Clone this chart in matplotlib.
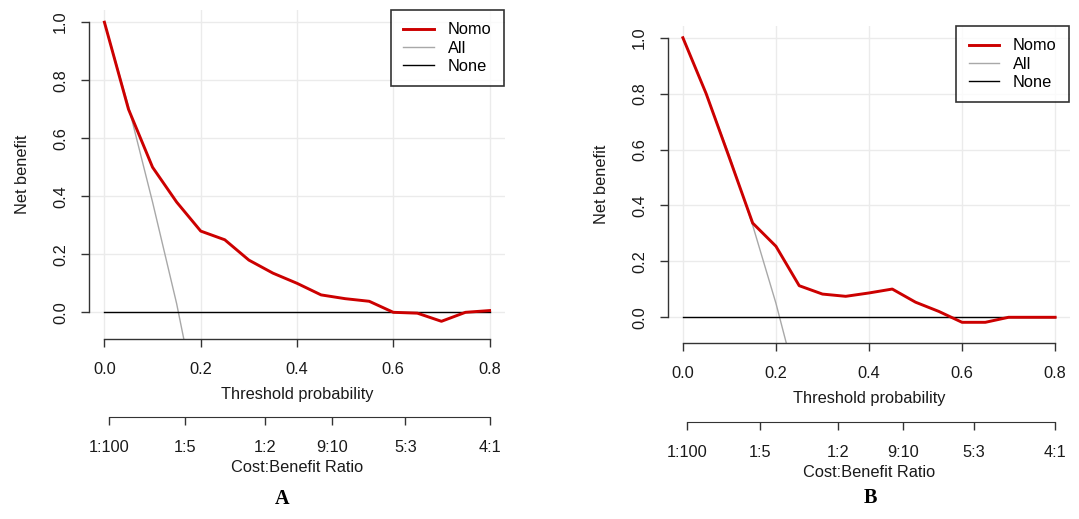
import numpy as np
import matplotlib.pyplot as plt

plt.rcParams['font.family'] = ['Liberation Sans', 'DejaVu Sans']

# thresholds used by both decision curves
thresholds = [0.0, 0.05, 0.10, 0.15, 0.20, 0.25, 0.30, 0.35, 0.40,
              0.45, 0.50, 0.55, 0.60, 0.65, 0.70, 0.75, 0.80]

# panel A
nomo_a = [1.0, 0.70, 0.50, 0.38, 0.28, 0.25, 0.18, 0.135, 0.10,
          0.06, 0.047, 0.038, 0.0, -0.003, -0.031, 0.0, 0.006]
all_thr_a = [0.0, 0.05, 0.10, 0.15, 0.20]
all_a = [1.0, 0.71, 0.38, 0.03, -0.38]

# panel B
nomo_b = [1.0, 0.80, 0.57, 0.337, 0.254, 0.113, 0.083, 0.075, 0.087,
          0.101, 0.054, 0.021, -0.018, -0.018, 0.0, 0.0, 0.0]
all_thr_b = [0.0, 0.05, 0.10, 0.15, 0.20, 0.25]
all_b = [1.0, 0.80, 0.578, 0.329, 0.05, -0.27]

# cost:benefit axis labels
cb_cost = [1, 1, 1, 9, 5, 4]
cb_benefit = [100, 5, 2, 10, 3, 1]
cb_labels = ['1:100', '1:5', '1:2', '9:10', '5:3', '4:1']

W, H = 1079, 519
fs = 11.8
red = '#CC0000'
grey = '#A8A8A8'
gridc = '#EBEBEB'
axc = '#333333'
txtc = '#1a1a1a'

fig = plt.figure(figsize=(W / 100, H / 100), dpi=100)


def px(left, top, right, bottom):
    return [left / W, 1 - bottom / H, (right - left) / W, (bottom - top) / H]


def panel(box, cb_y, nomo, all_thr, all_v, letter_xy, letter):
    ax = fig.add_axes(px(*box))
    ax.set_xlim(-0.032, 0.832)
    ax.set_ylim(-0.092, 1.042)
    ax.set_xticks([0.0, 0.2, 0.4, 0.6, 0.8])
    ax.set_yticks([0.0, 0.2, 0.4, 0.6, 0.8, 1.0])
    ax.set_xticklabels(['0.0', '0.2', '0.4', '0.6', '0.8'])
    ax.set_yticklabels(['0.0', '0.2', '0.4', '0.6', '0.8', '1.0'])
    ax.grid(True, color=gridc, lw=1.0)
    ax.set_axisbelow(True)
    for s in ['top', 'right']:
        ax.spines[s].set_visible(False)
    ax.spines['left'].set_bounds(0.0, 1.0)
    ax.spines['bottom'].set_bounds(0.0, 0.8)
    for s in ['left', 'bottom']:
        ax.spines[s].set_color(axc)
        ax.spines[s].set_linewidth(1.0)
    ax.tick_params(length=5.5, width=1.0, color=axc, labelsize=fs,
                   labelcolor=txtc, pad=11)
    ax.tick_params(axis='y', labelrotation=90, pad=9.5)
    for lab in ax.get_yticklabels():
        lab.set_va('center')

    ax.plot(all_thr, all_v, color=grey, lw=1.0, label='All')
    ax.plot(thresholds, np.zeros(len(thresholds)), color='black', lw=1.0,
            label='None')
    ax.plot(thresholds, nomo, color=red, lw=2.1, label='Nomo')

    h, l = ax.get_legend_handles_labels()
    order = [2, 0, 1]
    leg = ax.legend([h[i] for i in order], [l[i] for i in order],
                    loc='upper right', bbox_to_anchor=(0.997, 1.0),
                    borderaxespad=0, fancybox=False, fontsize=fs,
                    handlelength=1.85, handletextpad=0.85, labelspacing=0.2,
                    borderpad=0.75)
    leg.get_frame().set_edgecolor('black')
    leg.get_frame().set_linewidth(1.2)

    ax.set_xlabel('Threshold probability', fontsize=fs, color=txtc)
    ax.xaxis.set_label_coords(0.5, -55 / (box[3] - box[1]))
    ax.xaxis.label.set_va('center')
    ax.set_ylabel('Net benefit', fontsize=fs, color=txtc)
    ax.yaxis.set_label_coords(-66 / (box[2] - box[0]), 0.5)
    ax.yaxis.label.set_va('center')

    # second axis with cost:benefit ratios
    cax = fig.add_axes(px(box[0], cb_y - 1, box[2], cb_y))
    cax.set_xlim(ax.get_xlim())
    cax.patch.set_visible(False)
    cax.set_yticks([])
    for s in ['top', 'right', 'left']:
        cax.spines[s].set_visible(False)
    cb_pos = [c / (c + b) for c, b in zip(cb_cost, cb_benefit)]
    cax.spines['bottom'].set_bounds(cb_pos[0], cb_pos[-1])
    cax.spines['bottom'].set_color(axc)
    cax.set_xticks(cb_pos)
    cax.set_xticklabels(cb_labels)
    cax.tick_params(length=5.5, width=1.0, color=axc, labelsize=fs,
                    labelcolor=txtc, pad=11)
    cax.set_xlabel('Cost:Benefit Ratio', fontsize=fs, color=txtc,
                   labelpad=4)

    fig.text(letter_xy[0] / W, 1 - letter_xy[1] / H, letter,
             family='Liberation Serif', weight='bold', fontsize=14.5,
             ha='center', va='center')
    return ax


panel((89, 10, 505, 339), 417, nomo_a, all_thr_a, all_a, (282, 499), 'A')
panel((668, 26, 1070, 343), 422, nomo_b, all_thr_b, all_b, (870, 498), 'B')

fig.savefig('out.png', dpi=100)
